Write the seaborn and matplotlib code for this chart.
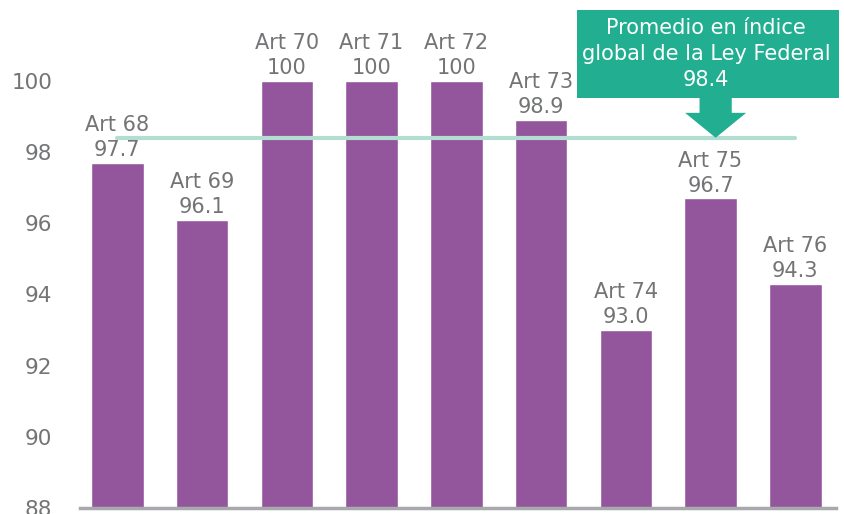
import matplotlib
matplotlib.use("Agg")
import matplotlib.pyplot as plt
import matplotlib.patches as mpatches
import seaborn as sns
import pandas as pd

# data
articulos = ["Art 68", "Art 69", "Art 70", "Art 71", "Art 72", "Art 73", "Art 74", "Art 75", "Art 76"]
valores = [97.7, 96.1, 100, 100, 100, 98.9, 93.0, 96.7, 94.3]
etiquetas = ["97.7", "96.1", "100", "100", "100", "98.9", "93.0", "96.7", "94.3"]
promedio = 98.4
y_ticks = [88, 90, 92, 94, 96, 98, 100]

sns.set_style("white")
plt.rcParams['font.family'] = ['DejaVu Sans']

gris = "#737476"
morado = "#93569d"
verde = "#22ae90"

df = pd.DataFrame({"articulo": articulos, "valor": valores})

fig = plt.figure(figsize=(8.44, 5.14), dpi=100)
ax = fig.add_axes([0.0948, 0.0117, 0.8957, 0.9883])

sns.barplot(data=df, x="articulo", y="valor", color=morado, width=0.62,
            saturation=1, ax=ax)

ax.set_ylim(88, 102.27)
ax.set_xlim(-0.44, 8.48)
ax.set_yticks(y_ticks)
ax.set_yticklabels([str(t) for t in y_ticks], fontsize=15.5, color=gris)
ax.tick_params(axis="y", length=0, pad=20)
ax.set_xticks([])
ax.set_xlabel("")
ax.set_ylabel("")
for s in ["top", "right", "left"]:
    ax.spines[s].set_visible(False)
ax.spines["bottom"].set_color("#a7a9ac")
ax.spines["bottom"].set_linewidth(2.5)

# data labels above bars
for i, (art, v, lab) in enumerate(zip(articulos, valores, etiquetas)):
    ax.annotate(art + "\n" + lab, (i, v), xytext=(0, 2), textcoords="offset points",
                ha="center", va="bottom", fontsize=15, color=gris, linespacing=1.3)

# average line
ax.plot([0, 8], [promedio, promedio], color="#b3ddd0", lw=3, solid_capstyle="round", zorder=1)

# callout box with arrow
bx0, bx1 = 5.43, 8.52
by0, by1 = 99.52, 101.99
ax.add_patch(mpatches.Rectangle((bx0, by0), bx1 - bx0, by1 - by0, facecolor=verde,
                                edgecolor="none", clip_on=False, zorder=3))
tip_x = 7.06
flecha = [(tip_x - 0.19, by0 + 0.02), (tip_x + 0.19, by0 + 0.02), (tip_x + 0.19, 99.1),
          (tip_x + 0.36, 99.1), (tip_x, promedio), (tip_x - 0.36, 99.1), (tip_x - 0.19, 99.1)]
ax.add_patch(mpatches.Polygon(flecha, closed=True, facecolor=verde, edgecolor="none",
                              clip_on=False, zorder=3))
ax.text((bx0 + bx1) / 2 - 0.03, (by0 + by1) / 2,
        "Promedio en índice\nglobal de la Ley Federal\n" + str(promedio),
        ha="center", va="center", fontsize=15, color="white", linespacing=1.35, zorder=4)

fig.savefig("out.png", dpi=100)
